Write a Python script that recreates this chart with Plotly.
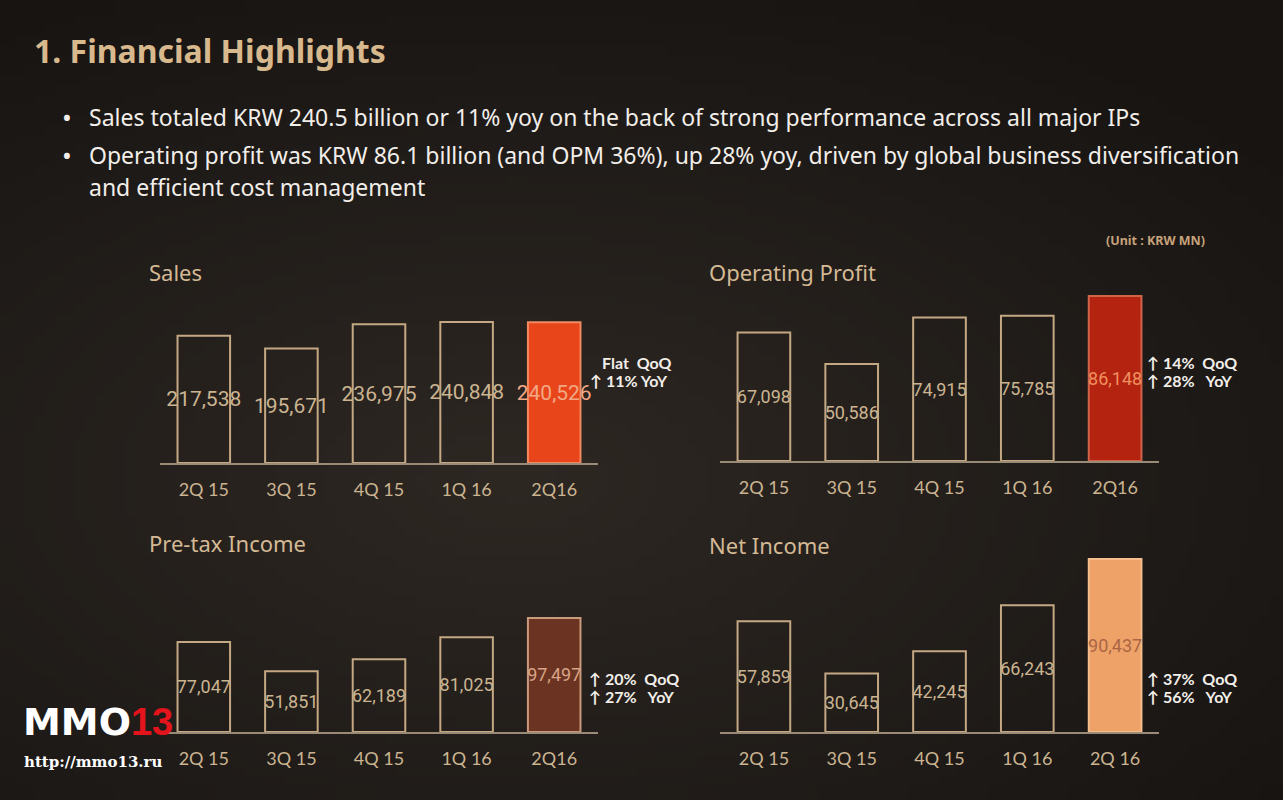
import base64
import struct
import zlib

import numpy as np
import plotly.graph_objects as go

W, H = 1283, 800

# ---- data -------------------------------------------------------------
quarters = ["2Q 15", "3Q 15", "4Q 15", "1Q 16", "2Q16"]
quarters_net = ["2Q 15", "3Q 15", "4Q 15", "1Q 16", "2Q 16"]

sales = [217538, 195671, 236975, 240848, 240526]
operating_profit = [67098, 50586, 74915, 75785, 86148]
pretax_income = [77047, 51851, 62189, 81025, 97497]
net_income = [57859, 30645, 42245, 66243, 90437]

sales_change = ["Flat  QoQ", "↑ 11% YoY"]
op_change = ["↑ 14%  QoQ", "↑ 28%   YoY"]
pretax_change = ["↑ 20%  QoQ", "↑ 27%   YoY"]
net_change = ["↑ 37%  QoQ", "↑ 56%   YoY"]

title = "1. Financial Highlights"
bullets = [
    "Sales totaled KRW 240.5 billion or 11% yoy on the back of strong performance across all major IPs",
    "Operating profit was KRW 86.1 billion (and OPM 36%), up 28% yoy, driven by global business diversification",
    "and efficient cost management",
]
unit_note = "(Unit : KRW MN)"

# ---- colours ----------------------------------------------------------
TAN = "#cbb491"
OUTLINE = "#c4a883"
BASELINE = "#9a8b77"
WHITE = "#f2eee9"
BG = "#221d1a"


def px(x):
    return x / W


def py(y):
    return 1 - y / H


def _png_data_uri(rgb):
    """Tiny hand-rolled PNG encoder for the background gradient."""
    h, w, _ = rgb.shape
    raw = b"".join(b"\x00" + rgb[r].astype(np.uint8).tobytes() for r in range(h))

    def chunk(tag, data):
        c = struct.pack(">I", len(data)) + tag + data
        return c + struct.pack(">I", zlib.crc32(tag + data) & 0xFFFFFFFF)

    png = b"\x89PNG\r\n\x1a\n"
    png += chunk(b"IHDR", struct.pack(">IIBBBBB", w, h, 8, 2, 0, 0, 0))
    png += chunk(b"IDAT", zlib.compress(raw, 9))
    png += chunk(b"IEND", b"")
    return "data:image/png;base64," + base64.b64encode(png).decode()


def _background():
    gw, gh = 128, 80
    xx, yy = np.meshgrid(np.linspace(0, 1, gw), np.linspace(0, 1, gh))
    d = np.sqrt(((xx - 0.40) / 0.78) ** 2 + ((yy - 0.60) / 0.70) ** 2)
    t = np.clip(d, 0, 1)[..., None]
    inner = np.array([46, 40, 35])
    outer = np.array([23, 20, 18])
    return _png_data_uri(inner * (1 - t) + outer * t)


# panel geometry (pixels): x-domain, baseline, axis max
panels = [
    dict(name="Sales", cats=quarters, vals=sales, x0=160, x1=598, base=463, ymax=280000,
         hi="#e8461a", hi_line="#f08a60", hi_text="#f2a884", lab_size=21,
         title_xy=(147, 272), change=sales_change, change_xy=[(600, 362), (588, 380)]),
    dict(name="Operating Profit", cats=quarters, vals=operating_profit, x0=720, x1=1159, base=461,
         ymax=95000, hi="#b3230f", hi_line="#d0654a", hi_text="#f0905f", lab_size=18,
         title_xy=(707, 272), change=op_change, change_xy=[(1145, 362), (1145, 380)]),
    dict(name="Pre-tax Income", cats=quarters, vals=pretax_income, x0=160, x1=598, base=732,
         ymax=150000, hi="#6a3322", hi_line="#c99a7c", hi_text="#d9a586", lab_size=18,
         title_xy=(147, 543), change=pretax_change, change_xy=[(587, 678), (587, 696)]),
    dict(name="Net Income", cats=quarters_net, vals=net_income, x0=720, x1=1159, base=732,
         ymax=95000, hi="#efa268", hi_line="#f5be8c", hi_text="#aa6644", lab_size=18,
         title_xy=(707, 545), change=net_change, change_xy=[(1145, 678), (1145, 696)]),
]

# pixel scale for each panel (px per value unit)
scales = [141 / 240848, 165 / 86148, 114 / 97497, 173 / 90437]

fig = go.Figure()
annotations = []

for i, (p, s) in enumerate(zip(panels, scales), start=1):
    n = len(p["vals"])
    colors = ["rgba(0,0,0,0)"] * (n - 1) + [p["hi"]]
    lines = [OUTLINE] * (n - 1) + [p["hi_line"]]
    text_colors = [TAN] * (n - 1) + [p["hi_text"]]
    fig.add_trace(
        go.Bar(
            x=p["cats"],
            y=p["vals"],
            width=0.6,
            marker=dict(color=colors, line=dict(color=lines, width=2)),
            text=[f"{v:,}" for v in p["vals"]],
            textposition="inside",
            insidetextanchor="middle",
            constraintext="none",
            textangle=0,
            textfont=dict(family="Roboto", size=p["lab_size"], color=text_colors),
            hoverinfo="skip",
            xaxis=f"x{i}",
            yaxis=f"y{i}",
        )
    )
    top = p["base"] - p["ymax"] * s
    fig.layout[f"xaxis{i}"] = dict(
        domain=[px(p["x0"]), px(p["x1"])],
        anchor=f"y{i}",
        type="category",
        range=[-0.5, n - 0.5],
        showline=True,
        linecolor=BASELINE,
        linewidth=2,
        showgrid=False,
        zeroline=False,
        ticks="outside",
        ticklen=9,
        tickcolor="rgba(0,0,0,0)",
        tickfont=dict(family="Lato", size=18, color=TAN),
        fixedrange=True,
    )
    fig.layout[f"yaxis{i}"] = dict(
        domain=[py(p["base"]), py(top)],
        anchor=f"x{i}",
        range=[0, p["ymax"]],
        visible=False,
        fixedrange=True,
    )
    tx, ty = p["title_xy"]
    annotations.append(dict(
        x=px(tx), y=py(ty), xref="paper", yref="paper", xanchor="left", yanchor="middle",
        text=p["name"], showarrow=False, font=dict(family="Noto Sans", size=22, color="#d4b995"),
    ))
    for line, (cx, cy) in zip(p["change"], p["change_xy"]):
        annotations.append(dict(
            x=px(cx), y=py(cy), xref="paper", yref="paper", xanchor="left", yanchor="middle",
            text=line, showarrow=False,
            font=dict(family="Lato", size=16, color=WHITE, weight="bold"),
        ))

# slide heading and bullets
annotations.append(dict(
    x=px(32), y=py(50), xref="paper", yref="paper", xanchor="left", yanchor="middle",
    text=title, showarrow=False, font=dict(family="Noto Sans", size=32, color="#d8b88d", weight="bold"),
))
for k, (txt, yy) in enumerate(zip(bullets, [117, 155, 187])):
    if k < 2:
        annotations.append(dict(
            x=px(60), y=py(yy), xref="paper", yref="paper", xanchor="left", yanchor="middle",
            text="•", showarrow=False, font=dict(family="Noto Sans", size=26, color=WHITE),
        ))
    annotations.append(dict(
        x=px(87), y=py(yy), xref="paper", yref="paper", xanchor="left", yanchor="middle",
        text=txt, showarrow=False, font=dict(family="Noto Sans", size=23, color=WHITE),
    ))
annotations.append(dict(
    x=px(1207), y=py(240), xref="paper", yref="paper", xanchor="right", yanchor="middle",
    text=unit_note, showarrow=False,
    font=dict(family="Noto Sans", size=12.5, color="#c7a27a", weight="bold"),
))

# watermark
annotations.append(dict(
    x=px(21), y=py(722), xref="paper", yref="paper", xanchor="left", yanchor="middle",
    text="MMO<span style='color:#e3141b;font-family:Liberation Sans'>13</span>", showarrow=False,
    font=dict(family="DejaVu Sans", size=38, color="#ffffff", weight="bold"),
))
annotations.append(dict(
    x=px(22), y=py(762), xref="paper", yref="paper", xanchor="left", yanchor="middle",
    text="http://mmo13.ru", showarrow=False,
    font=dict(family="DejaVu Serif", size=15, color="#ffffff", weight="bold"),
))

fig.update_layout(
    width=W,
    height=H,
    margin=dict(l=0, r=0, t=0, b=0),
    paper_bgcolor=BG,
    plot_bgcolor="rgba(0,0,0,0)",
    showlegend=False,
    bargap=0.4,
    annotations=annotations,
    images=[dict(
        source=_background(), xref="paper", yref="paper", x=0, y=1, sizex=1, sizey=1,
        xanchor="left", yanchor="top", sizing="stretch", layer="below",
    )],
)

fig.write_html(
    "out.html",
    config=dict(displayModeBar=False),
    post_script=f"document.body.style.margin='0';document.body.style.background='{BG}';",
)
